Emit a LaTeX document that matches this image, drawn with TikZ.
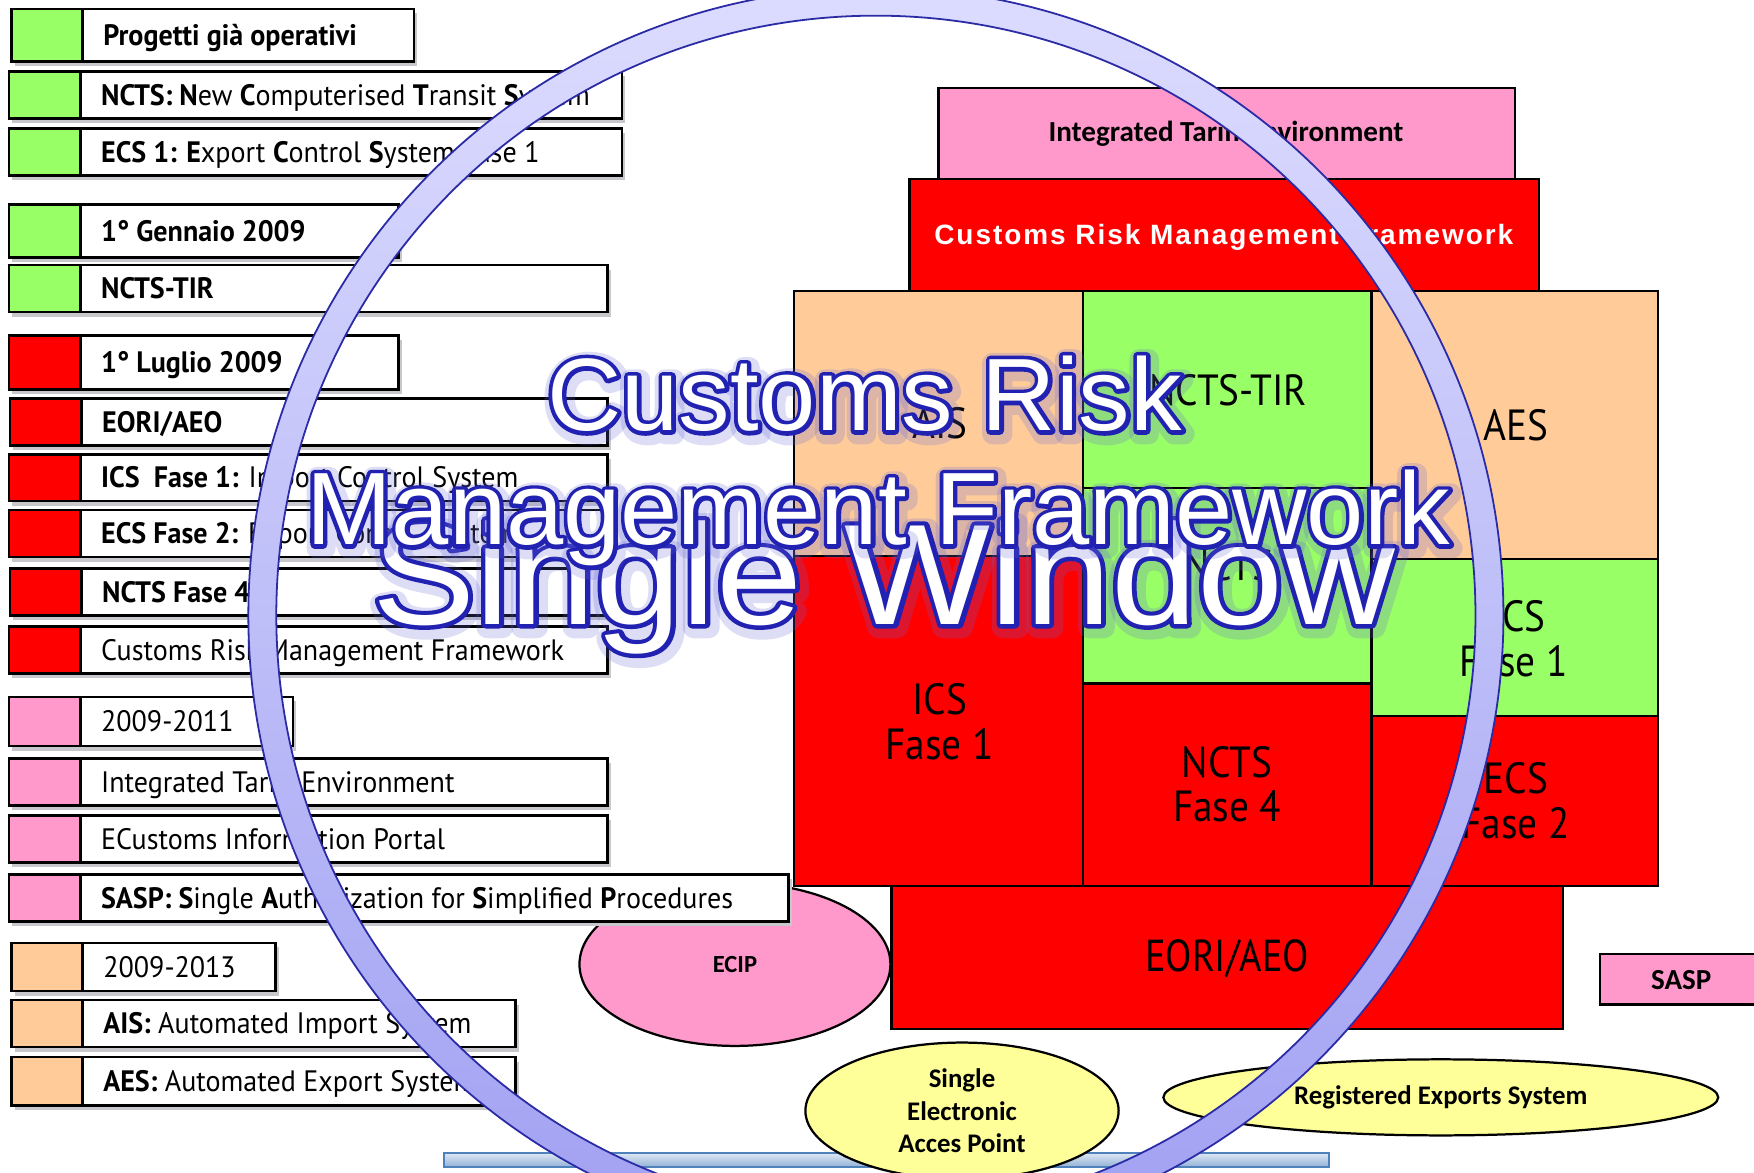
\documentclass[tikz,border=0pt]{standalone}
\usepackage{fontspec}
\usetikzlibrary{shapes.geometric}
\setmainfont[FakeStretch=0.95]{PT Sans}
\newfontfamily\blkfont[FakeStretch=0.9]{PT Sans}
\newfontfamily\eorifont[FakeStretch=0.86]{PT Sans}
\newfontfamily\calib{Carlito}
\newfontfamily\arialsp[LetterSpace=7]{Liberation Sans}
\newfontfamily\bigA{Liberation Sans}
\newfontfamily\bigAo[FakeBold=8]{Liberation Sans}
\newfontfamily\bigAg[FakeBold=20]{Liberation Sans}
\newfontfamily\bigBo[FakeBold=6]{Liberation Sans}
\newfontfamily\bigBg[FakeBold=15]{Liberation Sans}
\definecolor{cgreen}{HTML}{99FF66}
\definecolor{cred}{HTML}{FF0000}
\definecolor{cpink}{HTML}{FF99CC}
\definecolor{cpeach}{HTML}{FFCC99}
\definecolor{cyel}{HTML}{FFFF99}
\definecolor{ringtop}{HTML}{DCDCFF}
\definecolor{ringbot}{HTML}{A0A0F2}
\definecolor{ringline}{HTML}{2B2BA6}
\definecolor{barA}{HTML}{DCE6F2}
\definecolor{barB}{HTML}{95B3D7}
\definecolor{barline}{HTML}{4F81BD}
\definecolor{shad}{HTML}{C8C8CC}
\newcommand\glowl[1]{\special{pdf:code 1 j}\special{pdf:bcolor [0.4 0.4 0.85] [0.4 0.4 0.85]}#1\special{pdf:ecolor}}
\newcommand\outl[1]{\special{pdf:code 1 j}\special{pdf:bcolor [0.13 0.13 0.70] [0.13 0.13 0.70]}#1\special{pdf:ecolor}}
\newcommand\legitem[7]{%
  \fill[shad] ({#4+3},{#2+4}) rectangle ({#5+3},{#3+4});
  \filldraw[legline, fill=#6] (#4,#2) rectangle ({#4+64},#3);
  \filldraw[legline, fill=white] ({#4+64},#2) rectangle (#5,#3);
  \node[legtxt] (#1) at ({#4+82},{(#2+#3)/2+9.2}) {#7};
}
\begin{document}
\begin{tikzpicture}[x=0.5pt,y=-0.5pt,
  legline/.style={draw=black, line width=1.2pt},
  legtxt/.style={anchor=base west, inner sep=0pt, font=\fontsize{13.2}{15}\selectfont},
  blk/.style={draw=black, line width=1pt},
  blktxt/.style={align=center, inner sep=0pt, font=\blkfont\fontsize{19.5}{20}\selectfont},
  elltxt/.style={align=center, inner sep=0pt, font=\calib\bfseries\fontsize{12}{14.5}\selectfont},
  ell/.style={draw=black, line width=1pt, ellipse, inner sep=0pt},
  bigtxt/.style={inner sep=0pt, anchor=base}]
\useasboundingbox (0,0) rectangle (1568,1048);
\fill[white] (0,0) rectangle (1568,1048);

% ---- bottom bar and ellipses
\shade[top color=barA, bottom color=barB, draw=barline, line width=0.8pt] (397,1031) rectangle (1188,1043);
\node[ell, fill=cpink, minimum width=139pt, minimum height=73pt] (ecip) at (657,862) {};
\node[font=\calib\bfseries\fontsize{11}{13}\selectfont] at (ecip) {ECIP};
\node[ell, fill=cyel, minimum width=140pt, minimum height=61pt] (seap) at (860,993) {};
\node[elltxt] at (seap) {Single\\Electronic\\Acces Point};
\node[ell, fill=cyel, minimum width=248pt, minimum height=34pt] (res) at (1288,981) {};
\node[elltxt] at (res) {Registered Exports System};
\filldraw[blk, fill=cpink] (1430,853) rectangle (1580,898);
\node[font=\calib\bfseries\fontsize{13}{15}\selectfont] (sasp) at (1503,876) {SASP};

% ---- legend
\legitem{l1}{8}{55}{10}{370}{cgreen}{\bfseries Progetti già operativi}
\legitem{l2}{64}{106}{8}{556}{cgreen}{\textbf{NCTS: N}ew \textbf{C}omputerised \textbf{T}ransit \textbf{S}ystem}
\legitem{l3}{115}{157}{8}{556}{cgreen}{\textbf{ECS 1: E}xport \textbf{C}ontrol \textbf{S}ystem Fase 1}
\legitem{l4}{183}{230}{8}{356}{cgreen}{\bfseries 1° Gennaio 2009}
\legitem{l5}{237}{279}{8}{543}{cgreen}{\bfseries NCTS-TIR}
\legitem{l6}{300}{348}{8}{356}{cred}{\bfseries 1° Luglio 2009}
\legitem{l7}{356}{398}{9}{543}{cred}{\bfseries EORI/AEO}
\legitem{l8}{406}{448}{8}{543}{cred}{\textbf{ICS\ \ Fase 1:} Import Control System}
\legitem{l9}{456}{498}{8}{543}{cred}{\textbf{ECS Fase 2:} Export Control System}
\legitem{l10}{508}{550}{9}{543}{cred}{\bfseries NCTS Fase 4}
\legitem{l11}{560}{602}{8}{543}{cred}{Customs Risk Management Framework}
\legitem{l12}{623}{667}{8}{262}{cpink}{2009-2011}
\legitem{l13}{678}{720}{8}{543}{cpink}{Integrated Tariff Environment}
\legitem{l14}{729}{771}{8}{543}{cpink}{ECustoms Information Portal}
\legitem{l15}{782}{824}{8}{705}{cpink}{\textbf{SASP: S}ingle \textbf{A}uthorization for \textbf{S}implified \textbf{P}rocedures}
\legitem{l16}{843}{886}{10}{246}{cpeach}{2009-2013}
\legitem{l17}{894}{936}{10}{461}{cpeach}{\textbf{AIS:} Automated Import System}
\legitem{l18}{945}{988}{10}{461}{cpeach}{\textbf{AES:} Automated Export System}

% ---- right block
\filldraw[blk, fill=cpink] (839,79) rectangle (1354,160);
\node[font=\calib\bfseries\fontsize{13}{15}\selectfont] (ite) at (1096,120) {Integrated Tariff Environment};
\filldraw[blk, fill=cred] (813,160) rectangle (1376,260);
\node[font=\arialsp\bfseries\fontsize{12.5}{14}\selectfont, text=white] (crmf) at (1094,212) {Customs Risk Management Framework};
\filldraw[blk, fill=cpeach] (710,260) rectangle (968,497);
\node[blktxt] (ais) at (840,378) {AIS};
\filldraw[blk, fill=cgreen] (968,260) rectangle (1226,436);
\node[blktxt] (tir) at (1098,349) {NCTS-TIR};
\filldraw[blk, fill=cpeach] (1226,260) rectangle (1482,500);
\node[blktxt] (aes) at (1355,380) {AES};
\filldraw[blk, fill=cgreen] (968,436) rectangle (1226,611);
\node[blktxt] (ncts) at (1098,505) {NCTS};
\filldraw[blk, fill=cgreen] (1226,500) rectangle (1482,640);
\node[blktxt] (ecs1) at (1353,571) {ECS\\Fase 1};
\filldraw[blk, fill=cred] (710,497) rectangle (968,792);
\node[blktxt] (ics1) at (840,645) {ICS\\Fase 1};
\filldraw[blk, fill=cred] (968,611) rectangle (1226,792);
\node[blktxt] (ncts4) at (1097,701) {NCTS\\Fase 4};
\filldraw[blk, fill=cred] (1226,640) rectangle (1482,792);
\node[blktxt] (ecs2) at (1355,716) {ECS\\Fase 2};
\filldraw[blk, fill=cred] (797,792) rectangle (1397,920);
\node[inner sep=0pt, font=\eorifont\fontsize{20}{22}\selectfont] (eori) at (1097,857) {EORI/AEO};

% ---- ring
\coordinate (rc) at (783,550);
\shade[even odd rule, top color=ringtop, bottom color=ringbot] (rc) circle (280.5pt) (rc) circle (268pt);
\draw[ringline, line width=0.8pt] (rc) circle (280.5pt) (rc) circle (268pt);

% ---- big overlay titles: glow, blue outline, white face
\node[bigtxt, opacity=0.22, font=\bigBg\fontsize{64}{70}\selectfont, xscale=1.08] (swg) at (792,561) {\glowl{Single Window}};
\node[bigtxt, font=\bigBo\fontsize{64}{70}\selectfont, xscale=1.08] (swo) at (790,558) {\outl{Single Window}};
\node[bigtxt, text=white, font=\bigA\fontsize{64}{70}\selectfont, xscale=1.08] (sw) at (790,558) {Single Window};
\node[bigtxt, opacity=0.22, font=\bigAg\fontsize{46}{50}\selectfont] (crg) at (775,388) {\glowl{Customs Risk}};
\node[bigtxt, opacity=0.22, font=\bigAg\fontsize{46}{50}\selectfont] (mfg) at (787,490) {\glowl{Management Framework}};
\node[bigtxt, font=\bigAo\fontsize{46}{50}\selectfont] (cro) at (773,385) {\outl{Customs Risk}};
\node[bigtxt, font=\bigAo\fontsize{46}{50}\selectfont] (mfo) at (785,487) {\outl{Management Framework}};
\node[bigtxt, text=white, font=\bigA\fontsize{46}{50}\selectfont] (cr) at (773,385) {Customs Risk};
\node[bigtxt, text=white, font=\bigA\fontsize{46}{50}\selectfont] (mf) at (785,487) {Management Framework};
\end{tikzpicture}
\end{document}
